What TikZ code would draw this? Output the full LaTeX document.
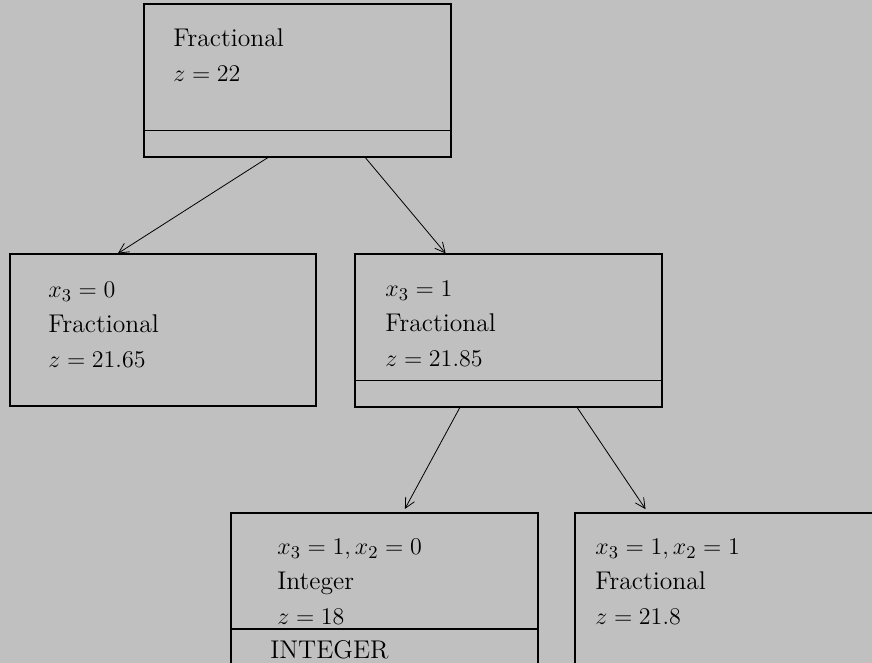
\documentclass[tikz,border=0pt]{standalone}
\usepackage{tikz}
\usetikzlibrary{arrows.meta,positioning,calc,fit}
\definecolor{bggray}{RGB}{192,192,192}
\newcommand{\boxfont}{\fontsize{12.8}{17.5}\selectfont}

\begin{document}
\begin{tikzpicture}[
  x=0.5pt, y=-0.5pt,
  box/.style={draw, line width=0.55pt, inner sep=0pt},
  divider/.style={line width=0.55pt},
  arrow/.style={-{Straight Barb[length=5pt, width=5pt]}, line width=0.4pt},
  info/.style={anchor=north west, align=left, inner sep=0pt, font=\boxfont}
]
  % Background
  \fill[bggray] (0,0) rectangle (872,663);
  \useasboundingbox (0,0) rectangle (872,663);
  \clip (0,0) rectangle (872,663);
  % Boxes
  \node[box, fit={(144,4) (451,157)}] (root) {};
  \node[box, fit={(10,254) (316,406)}] (xzero) {};
  \node[box, fit={(355,254) (662,407)}] (xone) {};
  \node[box, fit={(231,513) (538,720)}] (xonezero) {};
  \node[box, fit={(575,513) (882,720)}] (xoneone) {};
  % Dividers
  \draw[divider] ($(root.south west)+(0,-27)$) -- ($(root.south east)+(0,-27)$);
  \draw[divider] ($(xone.south west)+(0,-27)$) -- ($(xone.south east)+(0,-27)$);
  \draw[divider] (xonezero.west |- 0,629) -- (xonezero.east |- 0,629);
  % Texts
  \node[info] (roottext) at (173,28) {Fractional\\$z=22$};
  \node[info] (xzerotext) at (48,282) {$x_3=0$\\Fractional\\$z=21.65$};
  \node[info] (xonetext) at (385,281) {$x_3=1$\\Fractional\\$z=21.85$};
  \node[info] (xonezerotext) at (277,539) {$x_3=1,x_2=0$\\Integer\\$z=18$};
  \node[info] (verdict) at (270,640) {INTEGER};
  \node[info] (xoneonetext) at (595,539) {$x_3=1,x_2=1$\\Fractional\\$z=21.8$};
  % Arrows
  \draw[arrow] ($(root.south west)!0.404!(root.south east)$)
    -- ($(xzero.north west)!0.353!(xzero.north east)$);
  \draw[arrow] ($(root.south west)!0.72!(root.south east)$)
    -- ($(xone.north west)!0.296!(xone.north east)$);
  \draw[arrow, shorten >=2pt] ($(xone.south west)!0.342!(xone.south east)$)
    -- ($(xonezero.north west)!0.56!(xonezero.north east)$);
  \draw[arrow, shorten >=2pt] ($(xone.south west)!0.723!(xone.south east)$)
    -- ($(xoneone.north west)!0.238!(xoneone.north east)$);
\end{tikzpicture}
\end{document}
